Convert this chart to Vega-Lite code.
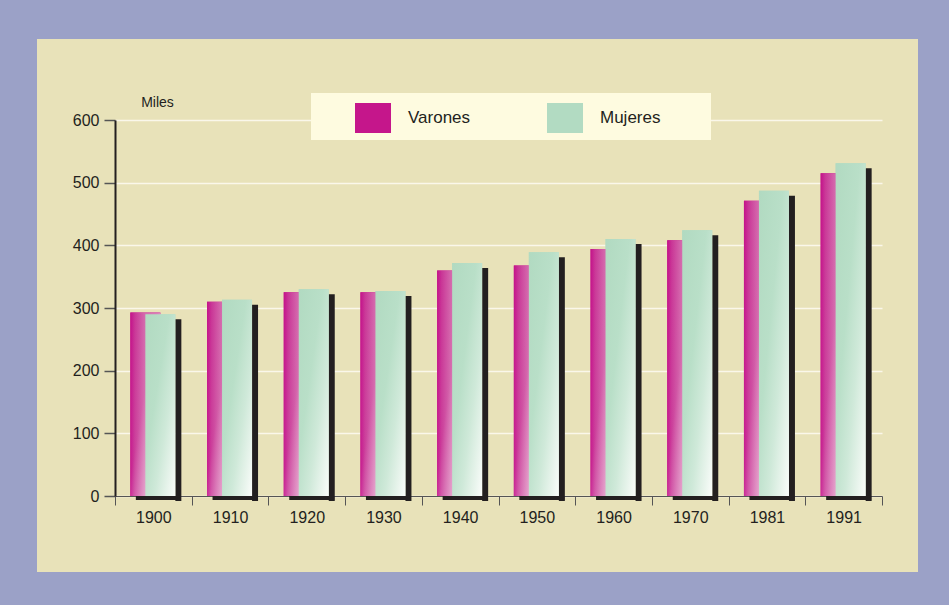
{
  "$schema": "https://vega.github.io/schema/vega-lite/v6.json",
  "width": 881,
  "height": 533,
  "autosize": {"type": "none"},
  "padding": {"left": 37, "top": 39, "right": 31, "bottom": 33},
  "background": "#9ba1c7",
  "config": {
    "view": {"fill": "#e8e2b9", "stroke": null},
    "font": "Liberation Sans"
  },
  "data": {
    "values": [
      {"year": "1900", "sexo": "Varones", "valor": 293},
      {"year": "1900", "sexo": "Mujeres", "valor": 290},
      {"year": "1910", "sexo": "Varones", "valor": 310},
      {"year": "1910", "sexo": "Mujeres", "valor": 313},
      {"year": "1920", "sexo": "Varones", "valor": 325},
      {"year": "1920", "sexo": "Mujeres", "valor": 330},
      {"year": "1930", "sexo": "Varones", "valor": 325},
      {"year": "1930", "sexo": "Mujeres", "valor": 327},
      {"year": "1940", "sexo": "Varones", "valor": 360},
      {"year": "1940", "sexo": "Mujeres", "valor": 372},
      {"year": "1950", "sexo": "Varones", "valor": 368},
      {"year": "1950", "sexo": "Mujeres", "valor": 389},
      {"year": "1960", "sexo": "Varones", "valor": 394},
      {"year": "1960", "sexo": "Mujeres", "valor": 410},
      {"year": "1970", "sexo": "Varones", "valor": 408},
      {"year": "1970", "sexo": "Mujeres", "valor": 424},
      {"year": "1981", "sexo": "Varones", "valor": 471},
      {"year": "1981", "sexo": "Mujeres", "valor": 487},
      {"year": "1991", "sexo": "Varones", "valor": 515},
      {"year": "1991", "sexo": "Mujeres", "valor": 531}
    ]
  },
  "encoding": {
    "x": {
      "field": "year",
      "type": "nominal",
      "sort": null,
      "scale": {"type": "band", "range": [78, 845], "paddingInner": 0, "paddingOuter": 0},
      "axis": {
        "title": null,
        "orient": "bottom",
        "offset": -76,
        "tickBand": "extent",
        "labelAngle": 0,
        "labelFontSize": 16,
        "labelColor": "#231f20",
        "labelPadding": 4,
        "tickSize": 9,
        "tickColor": "#555555",
        "tickWidth": 1,
        "domainColor": "#555555",
        "domainWidth": 1,
        "grid": false
      }
    },
    "y": {
      "field": "valor",
      "type": "quantitative",
      "scale": {"domain": [0, 600], "range": [457, 81], "nice": false, "zero": true},
      "axis": {
        "title": "Miles",
        "orient": "left",
        "offset": -78,
        "values": [0, 100, 200, 300, 400, 500, 600],
        "grid": true,
        "gridColor": "#faf7ea",
        "gridWidth": 1.5,
        "domainColor": "#231f20",
        "domainWidth": 2,
        "tickColor": "#555555",
        "tickWidth": 1.5,
        "tickSize": 11,
        "labelFontSize": 16,
        "labelColor": "#231f20",
        "labelPadding": 5,
        "titleAngle": 0,
        "titleX": 42,
        "titleY": 63,
        "titleAlign": "center",
        "titleBaseline": "middle",
        "titleFontSize": 14,
        "titleFontWeight": "normal",
        "titleColor": "#231f20"
      }
    }
  },
  "layer": [
    {
      "transform": [{"filter": "datum.sexo === 'Varones'"}],
      "mark": {"type": "bar", "width": 30, "xOffset": -8},
      "encoding": {
        "color": {
          "field": "sexo",
          "type": "nominal",
          "scale": {"domain": ["Varones", "Mujeres"], "range": ["#c5168b", "#b2dbc2"]},
          "legend": {
            "orient": "none",
            "legendX": 274,
            "legendY": 54,
            "direction": "horizontal",
            "title": "\u00a0",
            "titleOrient": "right",
            "titlePadding": 44,
            "titleFontSize": 17,
            "fillColor": "#fefbe0",
            "padding": 7,
            "symbolType": "M-1,-0.8333H1V0.8333H-1Z",
            "symbolSize": 1296,
            "symbolStrokeWidth": 0,
            "symbolOpacity": 1,
            "symbolOffset": 37,
            "labelOffset": 17,
            "columnPadding": 39,
            "labelFontSize": 17,
            "labelColor": "#231f20",
            "labelFont": "Liberation Sans"
          }
        }
      }
    },
    {
      "transform": [{"filter": "datum.sexo === 'Mujeres'"}],
      "mark": {"type": "bar", "width": 30, "xOffset": 7},
      "encoding": {
        "color": {"field": "sexo", "type": "nominal"}
      }
    },
    {
      "transform": [{"filter": "datum.sexo === 'Mujeres'"}],
      "mark": {"type": "bar", "width": 6, "xOffset": 25, "yOffset": 5, "y2Offset": 4, "color": "#231f20"}
    },
    {
      "transform": [{"filter": "datum.sexo === 'Mujeres'"}],
      "mark": {"type": "bar", "width": 45, "xOffset": 5, "y2Offset": 4, "color": "#231f20"},
      "encoding": {
        "y": {"datum": 0, "type": "quantitative"},
        "y2": {"datum": 0}
      }
    },
    {
      "transform": [{"filter": "datum.sexo === 'Varones'"}],
      "mark": {
        "type": "bar", "width": 30, "xOffset": -8,
        "color": {
          "gradient": "linear", "x1": 0, "y1": 0, "x2": 1, "y2": 0,
          "stops": [
            {"offset": 0, "color": "#c4118a"},
            {"offset": 0.15, "color": "#c93596"},
            {"offset": 0.5, "color": "#d468ac"},
            {"offset": 1, "color": "#d87cb6"}
          ]
        }
      }
    },
    {
      "transform": [{"filter": "datum.sexo === 'Varones'"}],
      "mark": {
        "type": "bar", "width": 30, "xOffset": -8,
        "color": {
          "gradient": "linear", "x1": 0, "y1": 0, "x2": 1, "y2": 1,
          "stops": [
            {"offset": 0, "color": "rgba(255,255,255,0)"},
            {"offset": 0.45, "color": "rgba(255,255,255,0.05)"},
            {"offset": 0.8, "color": "rgba(255,255,255,0.45)"},
            {"offset": 1, "color": "rgba(255,255,255,0.55)"}
          ]
        }
      }
    },
    {
      "transform": [{"filter": "datum.sexo === 'Mujeres'"}],
      "mark": {
        "type": "bar", "width": 30, "xOffset": 7,
        "color": {
          "gradient": "linear", "x1": 0, "y1": 0, "x2": 1, "y2": 1,
          "stops": [
            {"offset": 0, "color": "#b1dac1"},
            {"offset": 0.4, "color": "#b9dfc8"},
            {"offset": 0.65, "color": "#cfe9d9"},
            {"offset": 0.85, "color": "#e8f4ec"},
            {"offset": 1, "color": "#fbfdfb"}
          ]
        }
      }
    }
  ]
}
